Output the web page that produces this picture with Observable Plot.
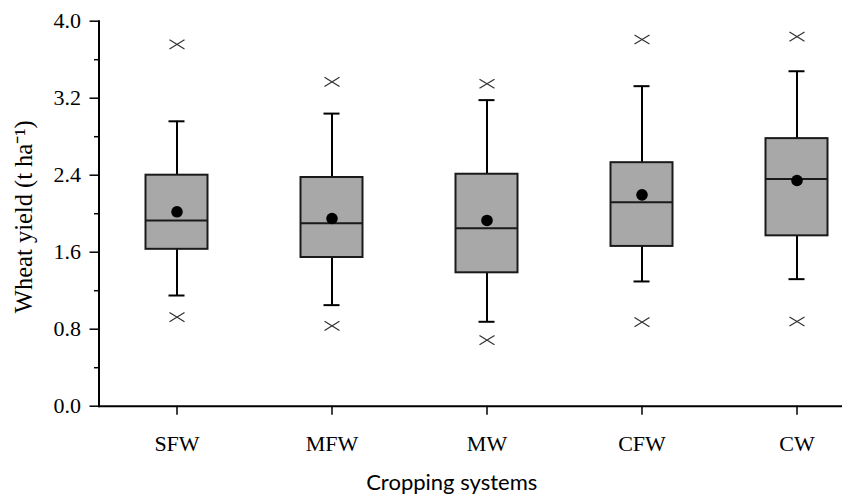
<!DOCTYPE html>
<html>
<head>
<meta charset="utf-8">
<script src="https://cdn.jsdelivr.net/npm/d3@7"></script>
<script src="https://cdn.jsdelivr.net/npm/@observablehq/plot@0.6"></script>
<style>
  html, body { margin: 0; padding: 0; background: #fff; }
  #chart svg { display: block; }
</style>
</head>
<body>
<div id="chart"></div>
<script>
const categories = ["SFW", "MFW", "MW", "CFW", "CW"];
const q1 = [1.63, 1.545, 1.386, 1.66, 1.77];
const median = [1.93, 1.90, 1.85, 2.12, 2.36];
const q3 = [2.40, 2.376, 2.41, 2.53, 2.78];
const whiskerLow = [1.15, 1.05, 0.877, 1.296, 1.32];
const whiskerHigh = [2.96, 3.04, 3.18, 3.325, 3.48];
const mean = [2.02, 1.95, 1.93, 2.196, 2.345];
const outlierLow = [0.925, 0.835, 0.686, 0.873, 0.88];
const outlierHigh = [3.76, 3.37, 3.35, 3.81, 3.84];
const majorTicks = [0, 0.8, 1.6, 2.4, 3.2, 4.0];
const minorTicks = [0.4, 1.2, 2.0, 2.8, 3.6];

const rows = categories.map((c, i) => ({
  cat: c, q1: q1[i], med: median[i], q3: q3[i],
  lo: whiskerLow[i], hi: whiskerHigh[i], mean: mean[i]
}));
const outliers = categories.flatMap((c, i) => [
  {cat: c, v: outlierLow[i]}, {cat: c, v: outlierHigh[i]}
]);

const crossSymbol = {
  draw(context, size) {
    const w = 7.5, h = 4.6;
    context.moveTo(-w, -h); context.lineTo(w, h);
    context.moveTo(-w, h); context.lineTo(w, -h);
  }
};

const W = 842, H = 495;
const mL = 98.5, mT = 20.7, mB = 89.3;
const step = 155;
const boxInset = (step - 62) / 2;
const capInset = (step - 16) / 2;
const serif = "Liberation Serif, Times New Roman, serif";

const chart = Plot.plot({
  width: W,
  height: H,
  marginLeft: mL,
  marginRight: 0,
  marginTop: mT,
  marginBottom: mB,
  style: {background: "#fff", color: "#000", fontFamily: serif},
  x: {type: "band", domain: categories, range: [mL, mL + step * categories.length], padding: 0},
  y: {domain: [0, 4]},
  marks: [
    Plot.ruleX(rows, {x: "cat", y1: "lo", y2: "q1", stroke: "#000", strokeWidth: 2}),
    Plot.ruleX(rows, {x: "cat", y1: "q3", y2: "hi", stroke: "#000", strokeWidth: 2}),
    Plot.tickY(rows, {x: "cat", y: "lo", stroke: "#000", strokeWidth: 2, insetLeft: capInset, insetRight: capInset}),
    Plot.tickY(rows, {x: "cat", y: "hi", stroke: "#000", strokeWidth: 2, insetLeft: capInset, insetRight: capInset}),
    Plot.barY(rows, {x: "cat", y1: "q1", y2: "q3", fill: "#a8a8a8", stroke: "#1a1a1a", strokeWidth: 2, insetLeft: boxInset, insetRight: boxInset}),
    Plot.tickY(rows, {x: "cat", y: "med", stroke: "#1a1a1a", strokeWidth: 2, insetLeft: boxInset, insetRight: boxInset}),
    Plot.dot(rows, {x: "cat", y: "mean", r: 5.8, fill: "#000", stroke: "none"}),
    Plot.dot(outliers, {x: "cat", y: "v", symbol: crossSymbol, r: 5, stroke: "#333", strokeWidth: 1.2, fill: "none"}),
    Plot.axisY({ticks: majorTicks, tickSize: 9, tickPadding: 9, tickFormat: d3.format(".1f"), label: null,
      fontSize: 22, fontFamily: serif, stroke: "#000", strokeWidth: 1.5}),
    Plot.axisY({ticks: minorTicks, tickSize: 4.5, tickFormat: () => "", label: null, stroke: "#000", strokeWidth: 1.5}),
    Plot.axisX({tickSize: 9, tickPadding: 19.7, label: null, fontSize: 22, fontFamily: serif, stroke: "#000", strokeWidth: 1.5}),
    Plot.frame({anchor: "left", stroke: "#000", strokeWidth: 2}),
    Plot.ruleY([0], {stroke: "#000", strokeWidth: 2}),
    Plot.text(["Wheat yield (t ha\u207B\u00B9)"], {frameAnchor: "left", dx: -74.5, dy: 3, rotate: -90,
      textAnchor: "middle", lineAnchor: "middle", fontSize: 24.5, fontFamily: serif, fill: "#000"}),
    Plot.text(["Cropping systems"], {frameAnchor: "bottom", dx: -19, dy: 83.5, fontSize: 22,
      fontFamily: "Lato, sans-serif", fill: "#000", textAnchor: "middle", lineAnchor: "bottom"})
  ]
});
document.getElementById("chart").appendChild(chart);
</script>
</body>
</html>
